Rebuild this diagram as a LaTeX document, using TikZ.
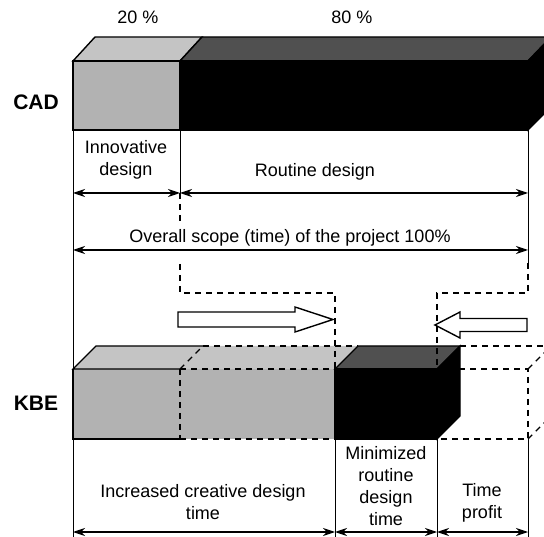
\documentclass[tikz,border=0pt]{standalone}
\usepackage{fontspec}
\setmainfont{Liberation Sans}
\usetikzlibrary{arrows.meta}
\definecolor{facegray}{RGB}{178,178,178}
\definecolor{topgray}{RGB}{196,196,196}
\definecolor{topdark}{RGB}{80,80,80}
\tikzset{
  edge/.style={line width=1.4pt, line join=miter},
  ghost/.style={line width=1.4pt, dash pattern=on 6pt off 5pt},
  guide/.style={line width=1pt},
  dimline/.style={line width=1.1pt, {Stealth[length=12pt,width=8pt]}-{Stealth[length=12pt,width=8pt]}},
  lbl/.style={font=\fontsize{18}{22}\selectfont, align=center, inner sep=0pt},
  head/.style={font=\bfseries\fontsize{21}{24}\selectfont, inner sep=0pt},
  hollow/.style={line width=1.4pt, fill=white, line join=miter}
}
\begin{document}
\begin{tikzpicture}[x=1pt,y=-1pt]
\clip (0,0) rectangle (544,537);
\fill[white] (0,0) rectangle (544,537);

% ---------- CAD bar ----------
\draw[edge, fill=topgray] (73,61) -- (95,37) -- (202,37) -- (180,61) -- cycle;
\draw[edge, fill=topdark] (180,61) -- (202,37) -- (551,37) -- (528,61) -- cycle;
\draw[edge, fill=black] (528,61) -- (551,37) -- (551,107) -- (528,130) -- cycle;
\draw[edge, fill=facegray] (73,61) rectangle (180,130);
\draw[edge, fill=black] (180,61) rectangle (528,130);

\node[head] (cad) at (36,102) {CAD};
\node[lbl] (p20) at (138,17) {20 \%};
\node[lbl] (p80) at (352,17) {80 \%};

% ---------- reference points ----------
\coordinate (a1) at (73,130);
\coordinate (b1) at (180,130);
\coordinate (c1) at (528,130);
\coordinate (a2) at (73,193);
\coordinate (b2) at (180,193);
\coordinate (c2) at (528,193);
\coordinate (bg1) at (180,222);
\coordinate (bg2) at (180,264);
\coordinate (a3) at (73,250);
\coordinate (c3) at (528,250);
\coordinate (c4) at (528,263);
\coordinate (bk) at (180,293);
\coordinate (mk) at (335,293);
\coordinate (ck) at (528,293);
\coordinate (nk) at (437,293);
\coordinate (aT) at (73,369);
\coordinate (mT) at (335,369);
\coordinate (nT) at (437,369);
\coordinate (aB) at (73,439);
\coordinate (mB) at (335,439);
\coordinate (nB) at (437,439);
\coordinate (cB) at (528,439);
\coordinate (aE) at (73,540);
\coordinate (mE) at (335,540);
\coordinate (nE) at (437,540);
\coordinate (cE) at (528,540);
\coordinate (aD) at (73,532);
\coordinate (mD) at (335,532);
\coordinate (nD) at (437,532);
\coordinate (cD) at (528,532);

% ---------- guide lines ----------
\draw[guide] (a1) -- (aT);
\draw[guide] (b1) -- (b2);
\draw[guide] (c1) -- (c4);
\draw[guide] (aB) -- (aE);
\draw[guide] (mB) -- (mE);
\draw[guide] (nB) -- (nE);
\draw[guide] (cB) -- (cE);

% ---------- CAD dimensions ----------
\node[lbl] (innov) at (126,160) {Innovative\\design};
\node[lbl] (rout) at (315,172) {Routine design};
\draw[dimline] (a2) -- (b2);
\draw[dimline] (b2) -- (c2);
\node[lbl] (overall) at (290,238) {Overall scope (time) of the project 100\%};
\draw[dimline] (a3) -- (c3);

% ---------- KBE bar ----------
% ghost box on the right
\draw[ghost] (460,346) -- (551,346);
\draw[ghost] (nT) -- (528,369) -- (cB) -- (nB);
\draw[ghost] (528,369) -- (551,346);
\draw[ghost] (cB) -- (551,416);

% grey part
\fill[topgray] (aT) -- (96,346) -- (358,346) -- (mT) -- cycle;
\fill[facegray] (aT) rectangle (mB);
\draw[edge] (180,369) -- (aT) -- (96,346) -- (203,346);
\draw[edge] (aT) -- (aB) -- (180,439);
\draw[ghost] (203,346) -- (358,346);
\draw[ghost] (180,369) -- (203,346);
\draw[ghost] (180,369) -- (mT);
\draw[ghost] (180,439) -- (mB);
\draw[ghost] (180,369) -- (180,439);

% black part
\draw[edge, fill=topdark] (mT) -- (358,346) -- (460,346) -- (nT) -- cycle;
\draw[edge, fill=black] (nT) -- (460,346) -- (460,416) -- (nB) -- cycle;
\draw[edge, fill=black] (mT) rectangle (nB);

\node[head] (kbe) at (36,403) {KBE};

% ---------- shift guides ----------
\draw[ghost] (b2) -- (bg1);
\draw[ghost] (bg2) -- (bk) -- (mk) -- (mT);
\draw[ghost] (c4) -- (ck) -- (nk) -- (nT);

% hollow arrows
\draw[hollow] (178,312) -- (295,312) -- (295,307) -- (333,319.5) -- (295,332) -- (295,327) -- (178,327) -- cycle;
\draw[hollow] (435,325) -- (460,312) -- (460,318.5) -- (527,318.5) -- (527,331.5) -- (460,331.5) -- (460,338) -- cycle;

% ---------- KBE dimensions ----------
\node[lbl] (creative) at (203,502.5) {Increased creative design\\time};
\node[lbl] (minim) at (386,486) {Minimized\\routine\\design\\time};
\node[lbl] (profit) at (482,502.5) {Time\\profit};
\draw[dimline] (aD) -- (mD);
\draw[dimline] (mD) -- (nD);
\draw[dimline] (nD) -- (cD);
\end{tikzpicture}
\end{document}
